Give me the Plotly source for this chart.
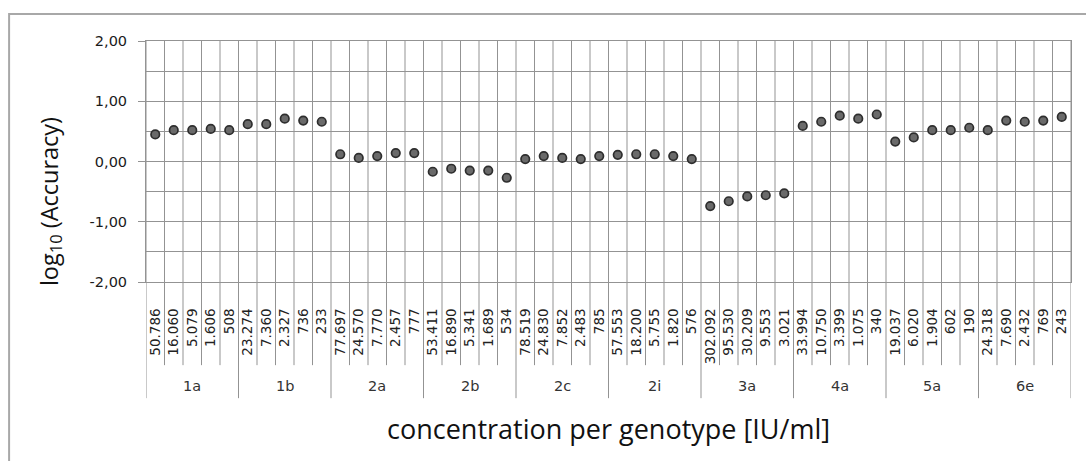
import plotly.graph_objects as go

# ---- data ----
genotypes = ["1a", "1b", "2a", "2b", "2c", "2i", "3a", "4a", "5a", "6e"]

conc_1a = ["50.786", "16.060", "5.079", "1.606", "508"]
conc_1b = ["23.274", "7.360", "2.327", "736", "233"]
conc_2a = ["77.697", "24.570", "7.770", "2.457", "777"]
conc_2b = ["53.411", "16.890", "5.341", "1.689", "534"]
conc_2c = ["78.519", "24.830", "7.852", "2.483", "785"]
conc_2i = ["57.553", "18.200", "5.755", "1.820", "576"]
conc_3a = ["302.092", "95.530", "30.209", "9.553", "3.021"]
conc_4a = ["33.994", "10.750", "3.399", "1.075", "340"]
conc_5a = ["19.037", "6.020", "1.904", "602", "190"]
conc_6e = ["24.318", "7.690", "2.432", "769", "243"]

acc_1a = [0.45, 0.52, 0.52, 0.54, 0.52]
acc_1b = [0.62, 0.62, 0.71, 0.68, 0.66]
acc_2a = [0.12, 0.06, 0.09, 0.14, 0.14]
acc_2b = [-0.17, -0.12, -0.15, -0.15, -0.27]
acc_2c = [0.04, 0.09, 0.06, 0.04, 0.09]
acc_2i = [0.11, 0.12, 0.12, 0.09, 0.04]
acc_3a = [-0.74, -0.66, -0.58, -0.56, -0.53]
acc_4a = [0.59, 0.66, 0.76, 0.71, 0.78]
acc_5a = [0.33, 0.40, 0.52, 0.52, 0.56]
acc_6e = [0.52, 0.68, 0.66, 0.68, 0.74]

y_tickvals = [-2, -1, 0, 1, 2]
y_ticktext = ["-2,00", "-1,00", "0,00", "1,00", "2,00"]

concs = [conc_1a, conc_1b, conc_2a, conc_2b, conc_2c, conc_2i, conc_3a, conc_4a, conc_5a, conc_6e]
accs = [acc_1a, acc_1b, acc_2a, acc_2b, acc_2c, acc_2i, acc_3a, acc_4a, acc_5a, acc_6e]

labels = [c for grp in concs for c in grp]
values = [v for grp in accs for v in grp]
xs = list(range(len(labels)))
group_sizes = [len(g) for g in concs]

GRID = "#939393"
FONT = "DejaVu Sans"

fig = go.Figure()
fig.add_trace(go.Scatter(
    x=xs, y=values, mode="markers",
    marker=dict(size=8.5, color="#6a6a6a", line=dict(color="#2e2e2e", width=1.7)),
    showlegend=False, hoverinfo="y",
))

shapes = []
# vertical separators (between categories), longer at genotype boundaries
start = 0
group_bounds = set([-0.5])
for n in group_sizes:
    start += n
    group_bounds.add(start - 0.5)
for i in range(len(labels) + 1):
    b = i - 0.5
    is_group = b in group_bounds
    shapes.append(dict(
        type="line", xref="x", yref="paper", x0=b, x1=b,
        y0=-0.482 if is_group else -0.345, y1=1,
        line=dict(color=GRID, width=1), layer="below",
    ))
# outer chart border
shapes.append(dict(type="rect", xref="paper", yref="paper",
                   x0=-0.148, x1=1.05, y0=-0.85, y1=1.112,
                   line=dict(color="#a8a8a8", width=2), layer="below"))

annotations = []
start = 0
for g, n in zip(genotypes, group_sizes):
    center = start + (n - 1) / 2
    annotations.append(dict(x=center, xref="x", y=-0.432, yref="paper",
                            text=g, showarrow=False, yanchor="middle",
                            font=dict(family=FONT, size=14.5, color="#333333")))
    start += n
annotations.append(dict(x=0.5, xref="paper", y=-0.606, yref="paper",
                        text="concentration per genotype [IU/ml]", showarrow=False,
                        yanchor="middle", xanchor="center",
                        font=dict(family="Open Sans", size=27, color="#111111")))
annotations.append(dict(x=-0.104, xref="paper", y=0.335, yref="paper",
                        text="log<sub>10</sub> (Accuracy)", showarrow=False, textangle=-90,
                        yanchor="middle", xanchor="center",
                        font=dict(family="Open Sans", size=23.5, color="#111111")))

fig.update_layout(
    width=1086, height=461,
    margin=dict(l=146, r=15, t=41, b=179),
    paper_bgcolor="white", plot_bgcolor="white",
    shapes=shapes, annotations=annotations,
    xaxis=dict(
        range=[-0.5, len(labels) - 0.5], tickmode="array", tickvals=xs, ticktext=labels,
        tickangle=-90, ticks="", showgrid=False, zeroline=False,
        showline=True, mirror=True, linecolor=GRID, linewidth=1,
        ticklabelstandoff=20,
        tickfont=dict(family=FONT, size=13.5, color="#222222"),
    ),
    yaxis=dict(
        range=[-2, 2], tickmode="array", tickvals=y_tickvals, ticktext=y_ticktext,
        ticks="outside", ticklen=7, tickcolor=GRID,
        showgrid=True, gridcolor=GRID, gridwidth=1, zeroline=False,
        minor=dict(dtick=0.5, showgrid=True, gridcolor=GRID, gridwidth=1),
        showline=True, mirror=True, linecolor=GRID, linewidth=1,
        ticklabelstandoff=8,
        tickfont=dict(family=FONT, size=14.5, color="#1a1a1a"),
    ),
)

fig.write_html("out.html")
